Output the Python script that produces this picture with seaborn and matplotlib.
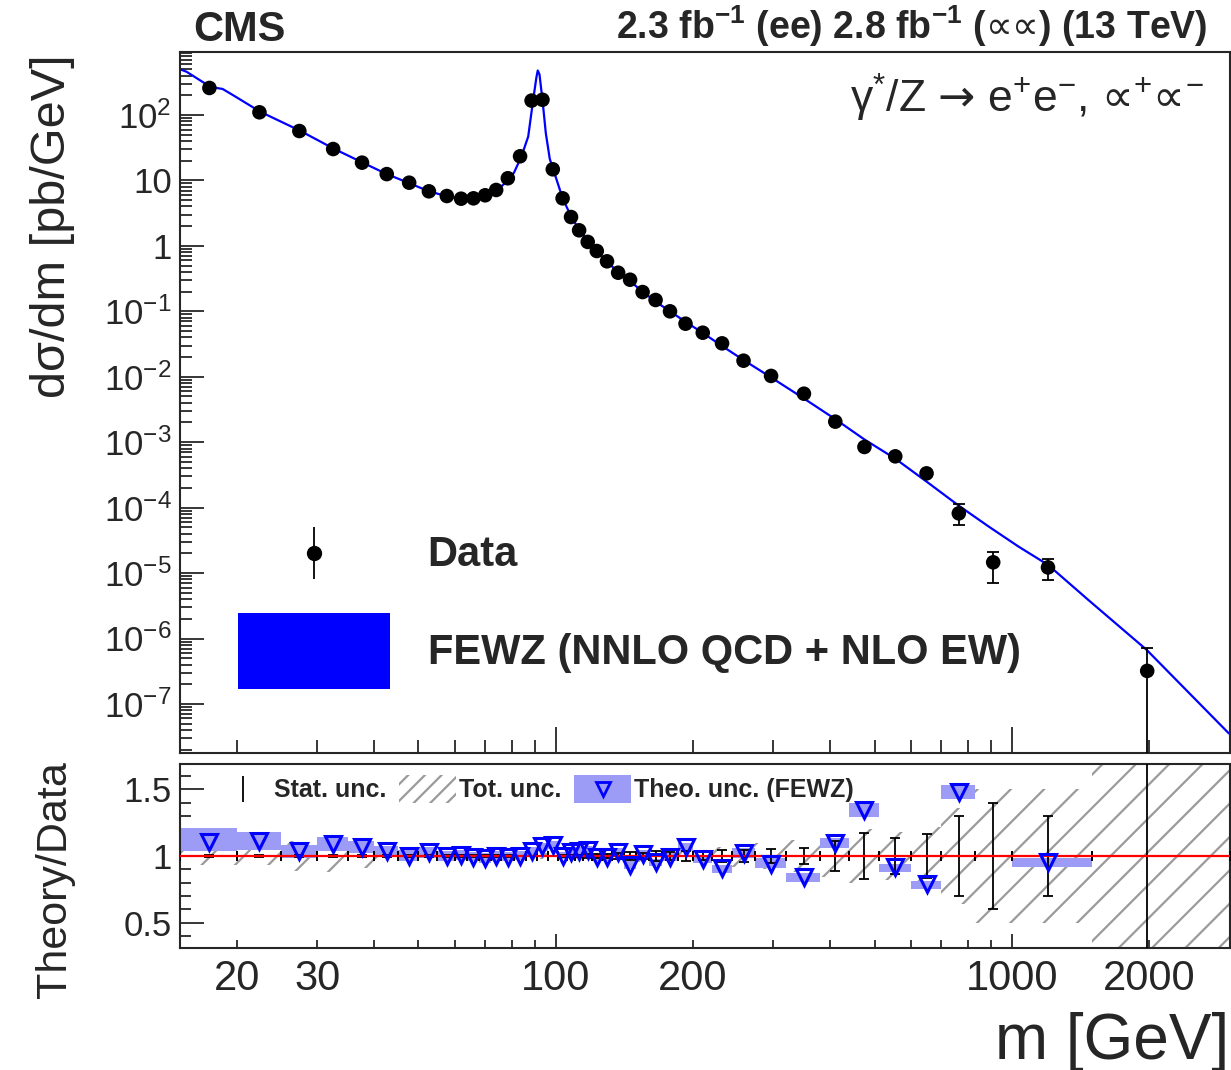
import numpy as np
import pandas as pd
import matplotlib
matplotlib.use("Agg")
import matplotlib.pyplot as plt
import seaborn as sns
from matplotlib.ticker import (LogLocator, FixedLocator, FuncFormatter,
                               NullFormatter, MultipleLocator)
from matplotlib.patches import Patch
from matplotlib.lines import Line2D
from matplotlib.legend_handler import HandlerLine2D

# ---------------- data ----------------
bin_lo = [15, 20, 25, 30, 35, 40, 45, 50, 55, 60, 64, 68, 72, 76, 81, 86, 91, 96,
          101, 106, 110, 115, 120, 126, 133, 141, 150, 160, 171, 185, 200, 220,
          243, 273, 320, 380, 440, 510, 600, 700, 830, 1000, 1500]
bin_hi = [20, 25, 30, 35, 40, 45, 50, 55, 60, 64, 68, 72, 76, 81, 86, 91, 96, 101,
          106, 110, 115, 120, 126, 133, 141, 150, 160, 171, 185, 200, 220, 243,
          273, 320, 380, 440, 510, 600, 700, 830, 1000, 1500, 3000]
data_m = [17.4, 22.4, 27.4, 32.5, 37.6, 42.6, 47.7, 52.7, 57.7, 62.0, 66.0, 70.0,
          74.0, 78.5, 83.5, 88.5, 93.5, 98.5, 103.5, 108, 112.5, 117.5, 123,
          129.5, 137, 145.5, 155, 165.5, 178, 192.5, 210, 231.5, 258, 296.5, 350,
          410, 475, 555, 650, 765, 910, 1200, 1980]
data_xsec = [259, 110, 56.9, 30.2, 18.7, 12.5, 9.24, 6.82, 5.78, 5.26, 5.33, 5.93,
             7.15, 10.8, 23.4, 166, 171, 14.8, 5.33, 2.76, 1.73, 1.15, 0.835,
             0.581, 0.389, 0.304, 0.197, 0.149, 0.100, 0.0647, 0.0471, 0.0324,
             0.0176, 0.0103, 0.00551, 0.00206, 8.45e-4, 6.08e-4, 3.34e-4,
             8.18e-5, 1.46e-5, 1.22e-5, 3.2e-7]
data_err_lo = [0] * 39 + [2.81e-5, 7.5e-6, 4.4e-6, 3.19e-7]
data_err_hi = [0] * 39 + [3.2e-5, 6.6e-6, 4.4e-6, 4.0e-7]

curve_m = [15, 15.5, 17.0, 17.8, 18.6, 19.7, 22.5, 27.5, 32.5, 37.5, 42.5, 47.5,
           52.5, 57.5, 62, 66, 70, 74, 78.5, 81, 84, 87, 89.2, 90.7, 91.3, 92.1,
           93.5, 95.1, 97, 98.7, 103.5, 108, 112.5, 117.5, 123, 129.5, 137,
           145.5, 155, 165.5, 178, 192.5, 210, 231.5, 258, 296.5, 350, 410, 475,
           555, 650, 765, 891, 1035, 1201, 1470, 1975, 2990]
curve_xsec = [500, 459, 305, 263, 250, 197, 112, 57.5, 30.9, 19.1, 12.6, 9.2,
              6.9, 5.75, 5.27, 5.27, 5.69, 6.84, 10.0, 13.2, 22.9, 46.8, 170,
              380, 479, 417, 170, 52.5, 21.4, 14.8, 5.37, 2.82, 1.78, 1.20, 0.83,
              0.575, 0.398, 0.288, 0.200, 0.141, 0.100, 0.0692, 0.0468, 0.0295,
              0.0180, 0.00977, 0.00465, 0.00225, 0.00110, 5.6e-4, 2.5e-4,
              1.07e-4, 5.1e-5, 2.53e-5, 1.33e-5, 3.9e-6, 6.7e-7, 3.55e-8]

ratio = [1.102, 1.114, 1.035, 1.09, 1.07, 1.04, 1.00, 1.027, 0.998, 1.01, 0.995,
         0.983, 1.0, 0.995, 1.002, 1.035, 1.072, 1.082, 1.002, 1.028, 1.04,
         1.047, 0.99, 0.99, 1.032, 0.933, 1.015, 0.953, 0.99, 1.065, 0.978,
         0.908, 1.022, 0.94, 0.841, 1.097, 1.346, 0.916, 0.791, 1.483, np.nan,
         0.957, np.nan]
theo_lo = [1.04, 1.045, 0.985, 1.04, 1.02, 0.995, 0.96, 0.985, 0.96, 0.97, 0.96,
           0.95, 0.965, 0.96, 0.97, 1.005, 1.04, 1.05, 0.975, 1.0, 1.01, 1.02,
           0.96, 0.96, 1.0, 0.905, 0.985, 0.925, 0.96, 1.035, 0.95, 0.87, 0.985,
           0.91, 0.806, 1.06, 1.29, 0.88, 0.754, 1.425, np.nan, 0.918, np.nan]
theo_hi = [1.21, 1.177, 1.084, 1.14, 1.11, 1.077, 1.045, 1.065, 1.035, 1.045,
           1.03, 1.02, 1.035, 1.03, 1.035, 1.065, 1.10, 1.11, 1.03, 1.055, 1.07,
           1.075, 1.02, 1.02, 1.06, 0.96, 1.045, 0.98, 1.02, 1.095, 1.005, 0.935,
           1.06, 0.985, 0.873, 1.134, 1.395, 0.94, 0.81, 1.53, np.nan, 0.985,
           np.nan]
stat_unc = [0.006, 0.006, 0.01, 0.008, 0.008, 0.008, 0.006, 0.006, 0.006, 0.006,
            0.006, 0.006, 0.005, 0.004, 0.003, 0.002, 0.002, 0.003, 0.005, 0.008,
            0.01, 0.012, 0.014, 0.016, 0.02, 0.027, 0.025, 0.037, 0.03, 0.035,
            0.033, 0.047, 0.045, 0.05, 0.063, 0.11, 0.17, 0.135, 0.165, 0.30,
            0.40, 0.30, 1.2]
tot_unc = [0.07, 0.07, 0.11, 0.12, 0.09, 0.06, 0.04, 0.04, 0.035, 0.03, 0.03,
           0.03, 0.03, 0.025, 0.02, 0.02, 0.02, 0.02, 0.025, 0.03, 0.03, 0.03,
           0.035, 0.035, 0.04, 0.04, 0.045, 0.05, 0.05, 0.055, 0.06, 0.07, 0.08,
           0.1, 0.12, 0.16, 0.2, 0.18, 0.22, 0.36, 0.5, 0.5, 1.5]

ytick_vals = [1e-7, 1e-6, 1e-5, 1e-4, 1e-3, 1e-2, 1e-1, 1, 10, 100]
xtick_labelled = [20, 30, 100, 200, 1000, 2000]

# ---------------- style ----------------
sns.set_style("ticks")
plt.rcParams["font.family"] = ["Liberation Sans", "DejaVu Sans"]
plt.rcParams["mathtext.fontset"] = "custom"
plt.rcParams["mathtext.rm"] = "Liberation Sans"
plt.rcParams["mathtext.it"] = "Liberation Sans:italic"
plt.rcParams["mathtext.bf"] = "Liberation Sans:bold"
plt.rcParams["mathtext.sf"] = "DejaVu Sans"
plt.rcParams["hatch.linewidth"] = 1.6
plt.rcParams["hatch.color"] = "#9a9a9a"
plt.rcParams["axes.linewidth"] = 1.5


class CenteredLine(HandlerLine2D):
    """Legend line handler that centres the marker in the handle box."""
    def create_artists(self, legend, orig_handle, xdescent, ydescent, width,
                       height, fontsize, trans):
        arts = super().create_artists(legend, orig_handle, xdescent, ydescent,
                                      width, height, fontsize, trans)
        for a in arts:
            a.set_ydata(np.full(len(a.get_ydata()), height / 2 - ydescent))
        return arts


W, H = 1231, 1070
fig = plt.figure(figsize=(W / 100, H / 100), dpi=100)
ax = fig.add_axes([180 / W, 1 - 753 / H, 1049.5 / W, 701 / H])
rax = fig.add_axes([180 / W, 1 - 948 / H, 1049.5 / W, 184 / H])

df = pd.DataFrame({"m": data_m, "xsec": data_xsec, "lo": bin_lo, "hi": bin_hi,
                   "ratio": ratio, "theo_lo": theo_lo, "theo_hi": theo_hi,
                   "stat": stat_unc, "tot": tot_unc,
                   "elo": data_err_lo, "ehi": data_err_hi})
df["width"] = df["hi"] - df["lo"]
curve = pd.DataFrame({"m": curve_m, "xsec": curve_xsec})

# ---------------- main panel ----------------
ax.set_xscale("log")
ax.set_yscale("log")
sns.lineplot(data=curve, x="m", y="xsec", ax=ax, color="#0000ff", lw=1.6,
             estimator=None, sort=False, zorder=2)
ax.errorbar(df["m"], df["xsec"], yerr=[df["elo"], df["ehi"]], fmt="none",
            ecolor="black", elinewidth=1.3, capsize=4, capthick=1.3, zorder=3)
sns.scatterplot(data=df, x="m", y="xsec", ax=ax, color="black", s=110,
                edgecolor="none", zorder=4)
ax.set_xlim(15, 3000)
ax.set_ylim(1.78e-8, 918)
ax.set_xlabel("")
ax.set_ylabel("dσ/dm [pb/GeV]", fontsize=35, loc="top")
ax.yaxis.set_label_coords(-0.10, 0.996)


def yfmt(v, p):
    e = int(round(np.log10(v)))
    if e == 0:
        return "1"
    if e == 1:
        return "10"
    return r"$10^{%d}$" % e


ax.yaxis.set_major_locator(FixedLocator(ytick_vals))
ax.yaxis.set_major_formatter(FuncFormatter(yfmt))
ax.yaxis.set_minor_locator(LogLocator(base=10, subs=np.arange(2, 10), numticks=30))
ax.yaxis.set_minor_formatter(NullFormatter())
ax.xaxis.set_major_locator(LogLocator(base=10, numticks=10))
ax.xaxis.set_minor_locator(LogLocator(base=10, subs=np.arange(2, 10), numticks=30))
ax.tick_params(which="both", direction="in", top=False, right=False, width=1.3)
ax.tick_params(axis="y", which="major", length=17, labelsize=25, pad=6)
ax.tick_params(axis="y", which="minor", length=8.5)
ax.tick_params(axis="x", which="major", length=19, labelbottom=False)
ax.tick_params(axis="x", which="minor", length=9.5, labelbottom=False)

vbar = Line2D([], [], marker="|", ms=37, mew=1.3, color="black", ls="none")
dot = Line2D([], [], marker="o", ms=10, color="black", ls="none")
ax.legend([(vbar, dot), Patch(facecolor="#0000ff", edgecolor="none")],
          ["Data", "FEWZ (NNLO QCD + NLO EW)"], loc="upper left",
          bbox_to_anchor=(0.0552, 0.339), frameon=False,
          prop={"weight": "bold", "size": 30}, handlelength=3.65,
          handleheight=2.4, labelspacing=0.55, handletextpad=0.9,
          borderpad=0, borderaxespad=0, handler_map={Line2D: CenteredLine()})

ax.text(0.976, 0.934,
        r"γ$^{*}$/Z $\mathsf{→}$ e$^{+}$e$^{-}$, "
        r"$\mathsf{∝}^{+}\mathsf{∝}^{-}$",
        transform=ax.transAxes, ha="right", va="center", fontsize=32)

fig.text(193 / W, 1 - 41 / H, "CMS", fontsize=30, fontweight="bold",
         ha="left", va="baseline")
fig.text(1208 / W, 1 - 39 / H,
         r"2.3 fb$^{\mathbf{-1}}$ (ee) 2.8 fb$^{\mathbf{-1}}$ "
         r"($\mathsf{∝∝}$) (13 TeV)",
         fontsize=27, fontweight="bold", ha="right", va="baseline")

# ---------------- ratio panel ----------------
rax.set_xscale("log")
rax.bar(df["lo"], 2 * df["tot"], bottom=1 - df["tot"], width=df["width"],
        align="edge", fill=False, hatch="/", edgecolor="#9a9a9a", linewidth=0,
        zorder=1)
th = df.dropna(subset=["theo_lo", "theo_hi"])
rax.bar(th["lo"], th["theo_hi"] - th["theo_lo"], bottom=th["theo_lo"],
        width=th["width"], align="edge", color="#9c9cf6", linewidth=0, zorder=2)
rax.errorbar(df["m"], np.ones(len(df)), xerr=[df["m"] - df["lo"], df["hi"] - df["m"]],
             yerr=df["stat"], fmt="none", ecolor="black", elinewidth=1.3,
             capsize=3.5, capthick=1.3, zorder=3)
rax.axhline(1, color="red", lw=1.6, zorder=4)
rd = df.dropna(subset=["ratio"])
rax.plot(rd["m"], rd["ratio"], ls="none", marker="v", ms=11, mfc="none",
         mec="#0000ff", mew=2.2, zorder=5)
rax.set_xlim(15, 3000)
rax.set_ylim(0.31, 1.69)

rax.yaxis.set_major_locator(FixedLocator([0.5, 1.0, 1.5]))
rax.yaxis.set_major_formatter(FuncFormatter(lambda v, p: "%g" % v))
rax.yaxis.set_minor_locator(MultipleLocator(0.1))
rax.xaxis.set_major_locator(LogLocator(base=10, numticks=10))
rax.xaxis.set_minor_locator(LogLocator(base=10, subs=np.arange(2, 10), numticks=30))


def xfmt(v, p):
    r = int(round(v))
    return str(r) if r in xtick_labelled else ""


rax.xaxis.set_major_formatter(FuncFormatter(xfmt))
rax.xaxis.set_minor_formatter(FuncFormatter(xfmt))
rax.tick_params(which="both", direction="in", top=False, right=False, width=1.3)
rax.tick_params(axis="y", which="major", length=17, labelsize=25, pad=6)
rax.tick_params(axis="y", which="minor", length=8)
rax.tick_params(axis="x", which="major", length=10, labelsize=30, pad=8)
rax.tick_params(axis="x", which="minor", length=6, labelsize=30, pad=8)

rax.set_ylabel("Theory/Data", fontsize=31)
rax.yaxis.set_label_coords(-0.10, 0.37)
rax.set_xlabel("m [GeV]", fontsize=46, loc="right")
rax.xaxis.set_label_coords(1.0, -0.35)

stat_h = Line2D([], [], marker="|", ms=19, mew=1.3, color="black", ls="none")
tot_h = Patch(fill=False, hatch="//", edgecolor="#9a9a9a", linewidth=0)
theo_h = (Patch(facecolor="#9c9cf6", edgecolor="none"),
          Line2D([], [], marker="v", ms=10, mfc="none", mec="#0000ff", mew=2,
                 ls="none"))
rax.legend([stat_h, tot_h, theo_h], ["Stat. unc.", "Tot. unc.", "Theo. unc. (FEWZ)"],
           ncol=3, loc="center left", bbox_to_anchor=(0.0324, 0.864), frameon=False,
           prop={"weight": "bold", "size": 18}, handlelength=2.3, handleheight=1.4,
           handletextpad=0.1, columnspacing=0.5, borderpad=0, borderaxespad=0,
           handler_map={Line2D: CenteredLine()})

fig.savefig("out.png", dpi=100)
